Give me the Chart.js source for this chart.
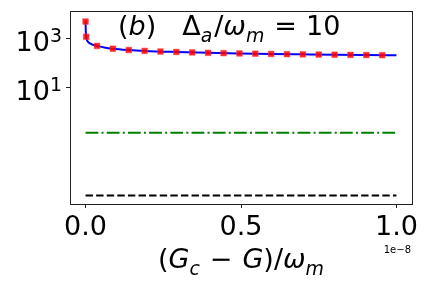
<!DOCTYPE html>
<html>
<head>
<meta charset="utf-8">
<script src="https://cdn.jsdelivr.net/npm/chart.js@4"></script>
<style>
  body { margin: 0; background: #fff; }
  #wrap { width: 432px; height: 288px; }
</style>
</head>
<body>
<div id="wrap"><canvas id="canvas" width="432" height="288"></canvas></div>
<script>
// x is in units of 1e-8 (offset text drawn at bottom right)
var curveX = [0, 0.0005, 0.002, 0.005, 0.01, 0.02, 0.037, 0.06, 0.088, 0.139, 0.19, 0.292, 0.394, 0.495, 0.597, 0.699, 0.801, 0.903, 1.0];
var curveY = [5600, 2500, 1200, 850, 700, 590, 510, 440, 390, 345, 318, 288, 266, 251, 239, 230, 222, 216, 211];

var markX = [0, 0.002, 0.037, 0.088, 0.139, 0.190, 0.241, 0.292, 0.343, 0.394, 0.444, 0.495, 0.546, 0.597, 0.648, 0.699, 0.750, 0.801, 0.852, 0.903, 0.954];
var markY = [5000, 1200, 510, 390, 345, 318, 300, 288, 276, 266, 258, 251, 245, 239, 234, 230, 226, 222, 219, 216, 213];

var flatX = [0, 1.0];
var greenY = [0.145, 0.145];
var blackY = [4e-4, 4e-4];

var xTicks = [0, 0.5, 1.0];
var xTickLabels = ['0.0', '0.5', '1.0'];
var yTicks = [10, 1000];
var yTickExp = ['1', '3'];

var FONT = '"DejaVu Sans", sans-serif';
var FS = 27;

function pts(xs, ys) {
	return xs.map(function(x, i){ return {x: x, y: ys[i]}; });
}

// draw a row of text pieces: {t, it, sub, sup} or {gap}
function richText(ctx, parts, x, y, size, align) {
	var total = 0;
	parts.forEach(function(p){
		if (p.gap != null) { p.w = p.gap; }
		else {
			var s = (p.sub || p.sup) ? size * 0.7 : size;
			p.font = (p.it ? 'italic ' : '') + s + 'px ' + FONT;
			ctx.font = p.font;
			p.w = ctx.measureText(p.t).width;
		}
		total += p.w;
	});
	var cx = x;
	if (align == 'center') cx = x - total / 2;
	if (align == 'right') cx = x - total;
	ctx.textBaseline = 'alphabetic';
	ctx.textAlign = 'left';
	ctx.fillStyle = '#000';
	parts.forEach(function(p){
		if (p.gap == null) {
			ctx.font = p.font;
			var dy = p.sub ? size * 0.27 : (p.sup ? -size * 0.33 : 0);
			ctx.fillText(p.t, cx, y + dy);
		}
		cx += p.w;
	});
}

var extras = {
	id: 'extras',
	afterDraw: function(chart) {
		var ctx = chart.ctx, a = chart.chartArea;
		ctx.save();
		ctx.strokeStyle = '#222';
		ctx.lineWidth = 1;
		ctx.strokeRect(Math.round(a.left) + 0.5, Math.round(a.top) + 0.5, Math.round(a.right - a.left), Math.round(a.bottom - a.top));
		// y tick labels as 10^n
		var ys = chart.scales.y;
		yTicks.forEach(function(v, i){
			var py = ys.getPixelForValue(v);
			richText(ctx, [{t:'10'}, {t:yTickExp[i], sup:true}], a.left - 8, py + 12, FS, 'right');
		});
		richText(ctx, [
			{t:'('}, {t:'b', it:true}, {t:')'}, {gap:26},
			{t:'Δ'}, {t:'a', it:true, sub:true}, {gap:2}, {t:'/'}, {t:'ω', it:true}, {t:'m', it:true, sub:true},
			{gap:10}, {t:'='}, {gap:9}, {t:'10'}
		], 118, 35, FS, 'left');
		richText(ctx, [
			{t:'('}, {t:'G', it:true}, {t:'c', it:true, sub:true}, {gap:10}, {t:'−'}, {gap:10},
			{t:'G', it:true}, {t:')'}, {t:'/'}, {t:'ω', it:true}, {t:'m', it:true, sub:true}
		], (a.left + a.right) / 2, 268, FS, 'center');
		ctx.font = '10px ' + FONT;
		ctx.textAlign = 'right';
		ctx.fillText('1e−8', a.right - 1, 253);
		ctx.restore();
	}
};

var ctx = document.getElementById('canvas').getContext('2d');
window.myChart = new Chart(ctx, {
	type: 'line',
	data: {
		datasets: [{
			data: pts(markX, markY),
			showLine: false,
			pointStyle: 'rect',
			pointRadius: 4,
			backgroundColor: 'rgba(255,0,0,0.85)',
			borderColor: 'rgba(255,60,60,0.5)',
			borderWidth: 1,
			order: 0
		}, {
			data: pts(curveX, curveY),
			borderColor: '#0000ff',
			borderWidth: 2,
			pointRadius: 0,
			cubicInterpolationMode: 'monotone',
			order: 1
		}, {
			data: pts(flatX, greenY),
			borderColor: '#008000',
			borderWidth: 2,
			borderDash: [12.8, 3.2, 2, 3.2],
			pointRadius: 0,
			order: 2
		}, {
			data: pts(flatX, blackY),
			borderColor: '#000',
			borderWidth: 2,
			borderDash: [7.4, 3.2],
			pointRadius: 0,
			order: 3
		}]
	},
	options: {
		responsive: false,
		animation: false,
		devicePixelRatio: 1,
		layout: { padding: { top: 11, right: 20, left: 0, bottom: 0 } },
		plugins: { legend: { display: false }, tooltip: { enabled: false } },
		scales: {
			x: {
				type: 'linear',
				min: -0.05,
				max: 1.05,
				afterBuildTicks: function(s){ s.ticks = xTicks.map(function(v){ return {value: v}; }); },
				afterFit: function(s){ s.height = 84; s.paddingLeft = 0; s.paddingRight = 0; },
				ticks: {
					callback: function(v){ return xTickLabels[xTicks.indexOf(v)]; },
					font: { family: FONT, size: FS },
					color: '#000',
					padding: 4,
					maxRotation: 0
				},
				grid: { drawOnChartArea: false, drawTicks: true, tickLength: 4, color: '#222' },
				border: { display: true, color: '#222' }
			},
			y: {
				type: 'logarithmic',
				min: 1.82e-4,
				max: 13490,
				afterBuildTicks: function(s){ s.ticks = yTicks.map(function(v){ return {value: v}; }); },
				afterFit: function(s){ s.width = 70; s.paddingTop = 0; s.paddingBottom = 0; },
				ticks: { display: false },
				grid: { drawOnChartArea: false, drawTicks: true, tickLength: 4, color: '#222' },
				border: { display: true, color: '#222' }
			}
		}
	},
	plugins: [extras]
});
</script>
</body>
</html>
